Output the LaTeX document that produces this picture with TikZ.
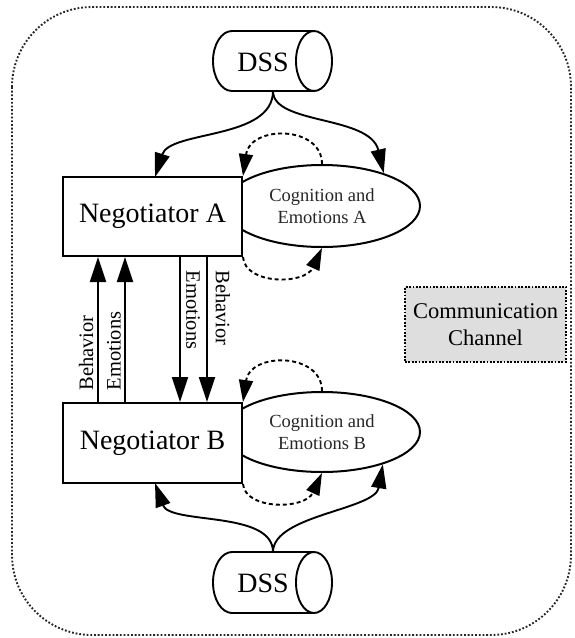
\documentclass[tikz,border=0pt]{standalone}
\usepackage{fontspec}
\setmainfont{Liberation Serif}
\usetikzlibrary{arrows.meta,shapes.geometric}
\begin{document}
\begin{tikzpicture}[x=1pt,y=-1pt,
  conn/.style={line width=1.9pt,-{Triangle[length=24pt,width=15pt]}},
  dconn/.style={line width=1.9pt,dash pattern=on 4pt off 3pt,-{Triangle[length=22pt,width=14pt]}},
  vconn/.style={line width=1.9pt,-{Triangle[length=25pt,width=16pt]}},
  negbox/.style={draw,line width=2pt,fill=white,minimum width=179pt,minimum height=79pt,inner sep=0pt,font=\fontsize{28}{30}\selectfont},
  cogell/.style={ellipse,draw,line width=2pt,minimum width=196pt,minimum height=82pt,inner sep=0pt,align=center,text=black!85,font=\fontsize{18.5}{22.5}\selectfont},
  lbl/.style={inner sep=0pt,font=\fontsize{20.5}{22}\selectfont},
  dsstext/.style={inner sep=0pt,font=\fontsize{28}{30}\selectfont},
  cyl/.style={line width=1.9pt}
  ]
\useasboundingbox (0,0) rectangle (574,638);
% outer frame
\draw[line width=1.9pt,dash pattern=on 1.8pt off 1.9pt,black!85,rounded corners=80pt] (12,7) rectangle (571,635);

% DSS top
\draw[cyl,fill=white] (314,31) -- (232,31) arc[start angle=90,end angle=270,x radius=19pt,y radius=30pt] -- (314,91);
\draw[cyl] (314,61) ellipse[x radius=18pt,y radius=30pt];
\node[dsstext] (dssA) at (263,62) {DSS};
\coordinate (dssAb) at (273,91);

% DSS bottom
\draw[cyl,fill=white] (314,552) -- (232,552) arc[start angle=90,end angle=270,x radius=19pt,y radius=30.5pt] -- (314,613);
\draw[cyl] (314,582.5) ellipse[x radius=18pt,y radius=30.5pt];
\node[dsstext] (dssB) at (263,583) {DSS};
\coordinate (dssBt) at (273,552);

% ellipses
\node[cogell] (ellA) at (322,206) {Cognition and\\Emotions A};
\node[cogell,minimum height=80pt] (ellB) at (322,432) {Cognition and\\Emotions B};

% negotiator boxes
\node[negbox] (negA) at (152.5,216.5) {Negotiator A};
\node[negbox,minimum height=80pt] (negB) at (152.5,443) {Negotiator B};

% communication channel
\node[draw,fill=black!13,line width=1.9pt,dash pattern=on 1.8pt off 1.6pt,minimum width=161pt,minimum height=75pt,align=center,font=\fontsize{22.5}{27}\selectfont] (comm) at (485.5,324.5) {Communication\\Channel};

% DSS connectors top
\draw[conn] (dssAb) .. controls (273,140) and (170,130) .. (155,177);
\draw[conn] (dssAb) .. controls (273,125) and (370,115) .. (ellA.28);
% DSS connectors bottom
\draw[conn] (dssBt) .. controls (273,510) and (170,525) .. (155,483);
\draw[conn] (dssBt) .. controls (273,515) and (375,510) .. (ellB.-28);

% dashed loops
\draw[dconn] (ellA.north) .. controls (322,125) and (250,125) .. (negA.north east);
\draw[dconn] (negA.south east) .. controls (245,285) and (305,285) .. (ellA.south);
\draw[dconn] (ellB.north) .. controls (322,352) and (250,352) .. (negB.north east);
\draw[dconn] (negB.south east) .. controls (245,510) and (305,510) .. (ellB.south);

% vertical arrows
\draw[vconn] (98,0 |- negB.north) -- (98,0 |- negA.south);
\draw[vconn] (125,0 |- negB.north) -- (125,0 |- negA.south);
\draw[vconn] (180,0 |- negA.south) -- (180,0 |- negB.north);
\draw[vconn] (207,0 |- negA.south) -- (207,0 |- negB.north);

\node[lbl,rotate=90] (lb1) at (86,353) {Behavior};
\node[lbl,rotate=90] (le1) at (114,351) {Emotions};
\node[lbl,rotate=-90] (le2) at (193,310) {Emotions};
\node[lbl,rotate=-90] (lb2) at (223,308) {Behavior};
\end{tikzpicture}
\end{document}
